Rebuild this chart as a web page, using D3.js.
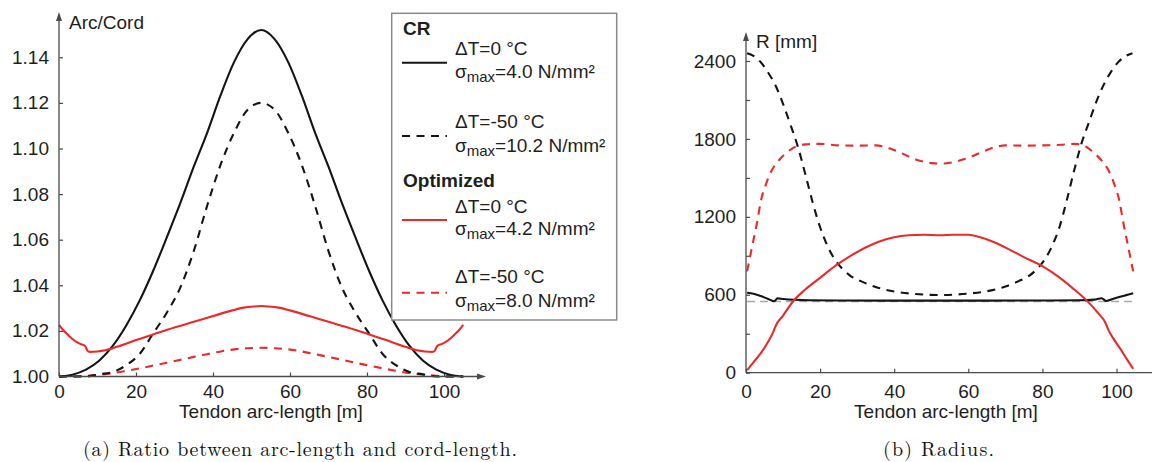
<!DOCTYPE html>
<html>
<head>
<meta charset="utf-8">
<script src="https://cdn.jsdelivr.net/npm/d3@7"></script>
<style>
  html, body { margin: 0; padding: 0; background: #fff; }
  svg { display: block; }
  .sans { font-family: "Liberation Sans", Arial, Helvetica, sans-serif; }
  .serif { font-family: "Latin Modern Roman", "CMU Serif", "Liberation Serif", "DejaVu Serif", serif; }
</style>
</head>
<body>
<svg id="chart" width="1152" height="462"></svg>
<script>
// ---------------- DATA ----------------
// (a) Arc/Cord ratio, sampled along tendon arc-length [m]
const arcX = [0,3.5,7,10.5,14,17.5,21,24.5,28,31.5,35,38.5,42,45.5,49,52.5,56,59.5,63,66.5,70,73.5,77,80.5,84,87.5,91,94.5,98,101.5,105];
const crWarmRatio = [1.000,1.0008,1.003,1.007,1.0135,1.0225,1.0335,1.0465,1.061,1.076,1.092,1.107,1.1235,1.138,1.148,1.152,1.148,1.138,1.1235,1.107,1.092,1.076,1.061,1.0465,1.0335,1.0225,1.0135,1.007,1.003,1.0008,1.000];
const crColdRatio = [1.000,1.000,1.000,1.001,1.002,1.005,1.010,1.019,1.028,1.039,1.055,1.075,1.093,1.107,1.117,1.120,1.117,1.107,1.093,1.075,1.055,1.039,1.028,1.019,1.010,1.005,1.002,1.001,1.000,1.000,1.000];
const optColdRatio = [1.000,1.000,1.0003,1.0008,1.0015,1.0025,1.0036,1.0048,1.006,1.0073,1.0086,1.0098,1.011,1.0119,1.0124,1.0126,1.0124,1.0119,1.011,1.0098,1.0086,1.0073,1.006,1.0048,1.0036,1.0025,1.0015,1.0008,1.0003,1.000,1.000];
const optWarmX = [0,1,2.5,4,5.5,6.8,7.4,8,10,12,15,20,25,30,35,40,45,48,50.5,52.5,54.5,57,60,65,70,75,80,85,90,93,95,97,97.6,98.2,99.5,101,102.5,104,105];
const optWarmRatio = [1.0226,1.0205,1.018,1.0158,1.0143,1.0133,1.0113,1.0108,1.0110,1.0115,1.0130,1.0160,1.0188,1.0215,1.0240,1.0265,1.0290,1.0302,1.0307,1.0309,1.0307,1.0302,1.0290,1.0265,1.0240,1.0215,1.0188,1.0160,1.0130,1.0115,1.0110,1.0108,1.0113,1.0133,1.0143,1.0158,1.018,1.0205,1.0226];

// (b) Radius [mm]
const crWarmRX = [0.3,2,4,6,7.6,8.5,10,13,17,25,40,52,65,80,90,94,96,97.2,99,101,103,104.5];
const crWarmR  = [615,608,590,568,550,572,568,562,558,556,555,555,555,556,558,563,573,552,568,585,600,612];
const crColdRX = [0.3,2,4,6,8,10,12,14,16,18,20,22,24,26,28,31,35,40,45,52.3,59.6,64.6,69.6,73.6,76.6,78.6,80.6,82.6,84.6,86.6,88.6,90.6,92.6,94.6,96.6,98.6,100.6,102.6,104.3];
const crColdR  = [2460,2440,2390,2310,2210,2070,1910,1740,1530,1310,1120,975,870,800,750,705,660,625,608,598,608,625,660,705,750,800,870,975,1120,1330,1560,1770,1930,2090,2220,2320,2395,2440,2460];
const optWarmRX = [0.3,2,4,6,7.3,8,10,13,16,20,24,28,32,36,40,44,48,52.4,56,60,63,67,71,75,80,84,88,92,95,97,97.8,99,101,103,104.5];
const optWarmR  = [20,80,150,240,310,360,440,560,640,730,820,895,960,1010,1043,1058,1062,1058,1062,1062,1045,1005,950,890,820,745,655,555,460,385,330,270,185,95,30];
const optColdRX = [0.3,1,2,3,4,5.5,7,9,11,13,16,20,25,30,35,38,42,46,50,52.5,55,59,63,67,70,75,80,85,88.8,91.8,93.8,95.8,97.8,99.3,100.8,101.8,102.8,103.8,104.5];
const optColdR  = [780,880,1020,1160,1320,1460,1560,1640,1695,1735,1758,1762,1750,1748,1750,1735,1690,1640,1614,1610,1616,1645,1690,1735,1750,1748,1750,1755,1762,1740,1695,1640,1560,1460,1320,1160,1020,880,780];
const refRX = [0.3,104.5];
const refR  = [548,548];

// Tick values
const ratioTicks = [1.00,1.02,1.04,1.06,1.08,1.10,1.12,1.14];
const lengthTicks = [0,20,40,60,80,100];
const radiusTicks = [0,300,600,900,1200,1500,1800,2100,2400];

// Legend entries
const legendGroups = ["CR","Optimized"];
const legendLine1 = ["\u0394T=0 \u00B0C","\u0394T=-50 \u00B0C","\u0394T=0 \u00B0C","\u0394T=-50 \u00B0C"];
const legendLine2 = ["=4.0 N/mm\u00B2","=10.2 N/mm\u00B2","=4.2 N/mm\u00B2","=8.0 N/mm\u00B2"];

// ---------------- DRAWING ----------------
const BLACK = "#141414", RED = "#ea2a2a", AXIS = "#4a4a4a";
const svg = d3.select("#chart");
const FS = 19;

function arrowUp(g, x, y) {
  g.append("path").attr("d", `M${x},${y} L${x-3},${y+9} L${x+3},${y+9} Z`).attr("fill", AXIS);
}
function arrowRight(g, x, y) {
  g.append("path").attr("d", `M${x},${y} L${x-9},${y-3} L${x-9},${y+3} Z`).attr("fill", AXIS);
}
function styleAxis(g) {
  g.select(".domain").remove();
  g.selectAll(".tick line").attr("stroke", AXIS).attr("stroke-width", 1.2);
  g.selectAll(".tick text").attr("fill", "#1e1e1e").attr("class", "sans").style("font-size", FS + "px");
}
function drawLine(g, xs, ys, sx, sy, color, dashed, width) {
  const pts = xs.map((x, i) => [x, ys[i]]);
  const line = d3.line().x(d => sx(d[0])).y(d => sy(d[1])).curve(d3.curveMonotoneX);
  g.append("path").datum(pts).attr("d", line)
    .attr("fill", "none").attr("stroke", color).attr("stroke-width", width || 2.1)
    .attr("stroke-dasharray", dashed ? dashed : null)
    .attr("stroke-linejoin", "round");
}

// ---- Chart (a)
const gA = svg.append("g");
const xA = d3.scaleLinear().domain([0, 100]).range([59, 444]);
const yA = d3.scaleLinear().domain([1.00, 1.14]).range([376.5, 57.3]);

const yAxisA = gA.append("g").attr("transform", `translate(${xA(0)},0)`)
  .call(d3.axisLeft(yA).tickValues(ratioTicks).tickFormat(d3.format(".2f")).tickSize(-4).tickPadding(10));
styleAxis(yAxisA);
const xAxisA = gA.append("g").attr("transform", `translate(0,${yA(1.00)})`)
  .call(d3.axisBottom(xA).tickValues(lengthTicks).tickFormat(d3.format("d")).tickSize(-4).tickPadding(8));
styleAxis(xAxisA);

drawLine(gA, arcX, optColdRatio, xA, yA, RED, "8,6.5");
drawLine(gA, arcX, crColdRatio, xA, yA, BLACK, "8,6.5");
drawLine(gA, arcX, crWarmRatio, xA, yA, BLACK, null);
drawLine(gA, optWarmX, optWarmRatio, xA, yA, RED, null);

gA.append("line").attr("x1", xA(0)).attr("x2", xA(0)).attr("y1", yA(1.00)).attr("y2", 20)
  .attr("stroke", AXIS).attr("stroke-width", 1.3);
arrowUp(gA, xA(0), 12);
gA.append("line").attr("x1", xA(0)).attr("x2", 478).attr("y1", yA(1.00)).attr("y2", yA(1.00))
  .attr("stroke", AXIS).attr("stroke-width", 1.3);
arrowRight(gA, 486, yA(1.00));

gA.append("text").attr("class", "sans").attr("x", 69).attr("y", 29).style("font-size", FS + "px")
  .attr("fill", "#1e1e1e").text("Arc/Cord");
gA.append("text").attr("class", "sans").attr("x", 271).attr("y", 418).attr("text-anchor", "middle")
  .style("font-size", FS + "px").attr("fill", "#1e1e1e").text("Tendon arc-length [m]");
gA.append("text").attr("class", "serif").attr("x", 83).attr("y", 456).style("font-size", "20px")
  .attr("textLength", 434).attr("lengthAdjust", "spacing")
  .attr("fill", "#111").text("(a) Ratio between arc-length and cord-length.");

// Legend
const leg = gA.append("g");
leg.append("rect").attr("x", 391.7).attr("y", 13.3).attr("width", 225).attr("height", 306.7)
  .attr("fill", "#fff").attr("stroke", "#8a8a8a").attr("stroke-width", 1.5);
const groupY = [35, 187];
legendGroups.forEach((name, i) => {
  leg.append("text").attr("class", "sans").attr("x", 403).attr("y", groupY[i])
    .style("font-size", FS + "px").style("font-weight", "bold").attr("fill", "#1e1e1e").text(name);
});
const entryLineY = [62.7, 136, 220, 292.7];
const entryT1 = [55, 128.3, 213.3, 283.3];
const entryT2 = [78.3, 151.7, 235, 306.7];
const entryColor = [BLACK, BLACK, RED, RED];
const entryDash = [null, "8,6.5", null, "8,6.5"];
legendLine1.forEach((t, i) => {
  leg.append("line").attr("x1", 402).attr("x2", 447).attr("y1", entryLineY[i]).attr("y2", entryLineY[i])
    .attr("stroke", entryColor[i]).attr("stroke-width", 2).attr("stroke-dasharray", entryDash[i]);
  leg.append("text").attr("class", "sans").attr("x", 455).attr("y", entryT1[i])
    .style("font-size", FS + "px").attr("fill", "#1e1e1e").text(t);
  const t2 = leg.append("text").attr("class", "sans").attr("x", 455).attr("y", entryT2[i])
    .style("font-size", FS + "px").attr("fill", "#1e1e1e");
  t2.append("tspan").text("\u03C3");
  t2.append("tspan").attr("dy", 4).style("font-size", "15px").text("max");
  t2.append("tspan").attr("dy", -4).text(legendLine2[i]);
});

// ---- Chart (b)
const gB = svg.append("g");
const xB = d3.scaleLinear().domain([0, 100]).range([746, 1116.5]);
const yB = d3.scaleLinear().domain([0, 2400]).range([372.7, 61]);

const yAxisB = gB.append("g").attr("transform", `translate(${xB(0)},0)`)
  .call(d3.axisLeft(yB).tickValues(radiusTicks).tickFormat(d => d % 600 === 0 ? d : "").tickSize(-4).tickPadding(10));
styleAxis(yAxisB);
const xAxisB = gB.append("g").attr("transform", `translate(0,${yB(0)})`)
  .call(d3.axisBottom(xB).tickValues(lengthTicks).tickFormat(d3.format("d")).tickSize(-4).tickPadding(12));
styleAxis(xAxisB);

drawLine(gB, refRX, refR, xB, yB, "#a8a8a8", "8,5", 1.5);
drawLine(gB, crWarmRX, crWarmR, xB, yB, BLACK, null);
drawLine(gB, crColdRX, crColdR, xB, yB, BLACK, "8,6.5");
drawLine(gB, optColdRX, optColdR, xB, yB, RED, "8,6.5");
drawLine(gB, optWarmRX, optWarmR, xB, yB, RED, null);

gB.append("line").attr("x1", xB(0)).attr("x2", xB(0)).attr("y1", yB(0)).attr("y2", 40)
  .attr("stroke", AXIS).attr("stroke-width", 1.3);
arrowUp(gB, xB(0), 32);
gB.append("line").attr("x1", xB(0)).attr("x2", 1152).attr("y1", yB(0)).attr("y2", yB(0))
  .attr("stroke", AXIS).attr("stroke-width", 1.3);

gB.append("text").attr("class", "sans").attr("x", 756).attr("y", 48).style("font-size", FS + "px")
  .attr("fill", "#1e1e1e").text("R [mm]");
gB.append("text").attr("class", "sans").attr("x", 946).attr("y", 418).attr("text-anchor", "middle")
  .style("font-size", FS + "px").attr("fill", "#1e1e1e").text("Tendon arc-length [m]");
gB.append("text").attr("class", "serif").attr("x", 883).attr("y", 456).style("font-size", "20px")
  .attr("textLength", 111).attr("lengthAdjust", "spacing")
  .attr("fill", "#111").text("(b) Radius.");
</script>
</body>
</html>
